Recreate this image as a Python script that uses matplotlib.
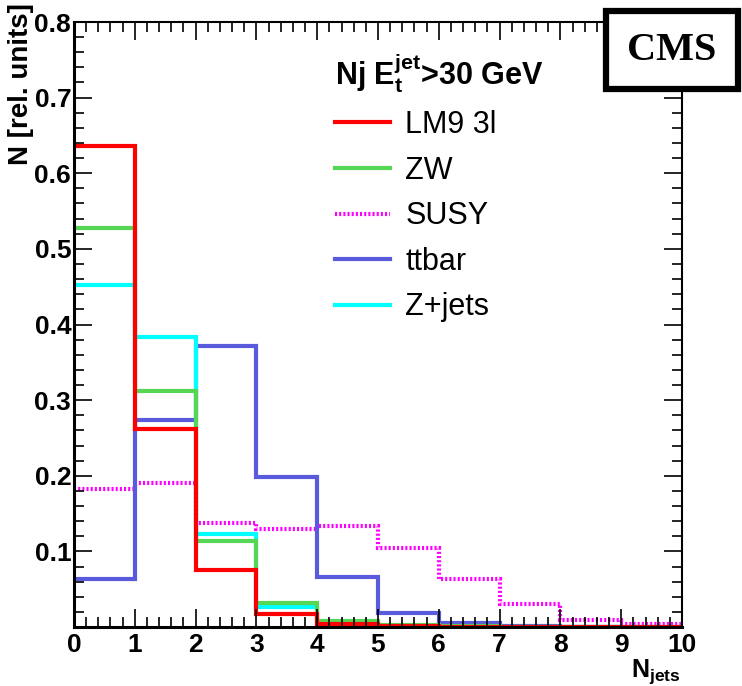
import matplotlib.pyplot as plt
from matplotlib.ticker import AutoMinorLocator, MultipleLocator, FuncFormatter
from matplotlib.lines import Line2D
import numpy as np

plt.rcParams['font.family'] = 'Liberation Sans'
plt.rcParams['mathtext.fontset'] = 'custom'
plt.rcParams['mathtext.rm'] = 'Liberation Sans:bold'
plt.rcParams['mathtext.bf'] = 'Liberation Sans:bold'
plt.rcParams['mathtext.it'] = 'Liberation Sans:bold'

# jet multiplicity bins 0..10, normalised counts per sample
edges = np.arange(0, 11)
lm9 = [0.636, 0.262, 0.075, 0.017, 0.004, 0.001, 0.0005, 0.0003, 0.0002, 0.0001]
zw = [0.528, 0.312, 0.114, 0.032, 0.008, 0.002, 0.001, 0.0005, 0.0002, 0.0001]
susy = [0.183, 0.190, 0.137, 0.130, 0.133, 0.105, 0.063, 0.030, 0.009, 0.004]
ttbar = [0.064, 0.274, 0.372, 0.199, 0.066, 0.018, 0.005, 0.001, 0.0005, 0.0002]
zjets = [0.452, 0.383, 0.123, 0.027, 0.007, 0.001, 0.0005, 0.0002, 0.0001, 0.0001]

labels = ['LM9 3l', 'ZW', 'SUSY', 'ttbar', 'Z+jets']
colors = ['#ff0000', '#55d655', '#ff00ff', '#5a5adc', '#00ffff']

fig = plt.figure(figsize=(7.42, 6.86), dpi=100)
ax = fig.add_axes([74 / 742, 1 - 627 / 686, 608 / 742, 605 / 686])

lw = 3.0
dots = (0, (0.5, 0.5))
ax.stairs(susy, edges, baseline=None, color=colors[2], lw=lw, linestyle=dots)
ax.stairs(ttbar, edges, baseline=None, color=colors[3], lw=lw)
ax.stairs(zjets, edges, baseline=None, color=colors[4], lw=lw)
ax.stairs(zw, edges, baseline=None, color=colors[1], lw=lw)
ax.stairs(lm9, edges, baseline=None, color=colors[0], lw=lw)

ax.set_xlim(0, 10)
ax.set_ylim(0, 0.8)
ax.xaxis.set_major_locator(MultipleLocator(1))
ax.xaxis.set_minor_locator(AutoMinorLocator(5))
ax.yaxis.set_major_locator(MultipleLocator(0.1))
ax.yaxis.set_minor_locator(AutoMinorLocator(5))
ax.yaxis.set_major_formatter(FuncFormatter(lambda v, p: '' if abs(v) < 1e-9 else f'{v:.1f}'))

ax.tick_params(which='both', direction='in', top=True, right=True, width=1.2)
ax.tick_params(which='major', length=13)
ax.tick_params(which='minor', length=7)
ax.tick_params(axis='x', pad=4)
ax.tick_params(axis='y', pad=2)
for lab in ax.get_xticklabels() + ax.get_yticklabels():
    lab.set_fontsize(19)
    lab.set_fontweight('bold')
for s in ax.spines.values():
    s.set_linewidth(1.5)
ax.spines['left'].set_linewidth(2.2)
ax.spines['bottom'].set_linewidth(2.2)

# axis titles
fig.text(21 / 742, 1 - 3 / 686, 'N [rel. units]', rotation=90, ha='center', va='top',
         fontsize=20, fontweight='bold')
fig.text(681 / 742, 0.0, r'$\mathbf{N_{jets}}$', ha='right', va='bottom', fontsize=18)

# legend
handles = [Line2D([], [], color=colors[0], lw=lw),
           Line2D([], [], color=colors[1], lw=lw),
           Line2D([], [], color=colors[2], lw=lw, linestyle=dots),
           Line2D([], [], color=colors[3], lw=lw),
           Line2D([], [], color=colors[4], lw=lw)]
leg = fig.legend(handles, labels, loc='upper left', bbox_to_anchor=(335 / 742, 1 - 51 / 686),
                 frameon=False, fontsize=22, handlelength=1.8, handletextpad=0.5,
                 labelspacing=0.51, borderpad=0, borderaxespad=0,
                 title=r'Nj E$_\mathrm{t}^\mathrm{jet}$>30 GeV', alignment='left')
leg.get_title().set_fontsize(22)
leg.get_title().set_fontweight('bold')

# experiment tag
fig.text(672 / 742, 1 - 50 / 686, 'CMS', ha='center', va='center', fontsize=29,
         fontweight='bold', family='Liberation Serif',
         bbox=dict(boxstyle='square,pad=0.52', fc='white', ec='black', lw=4.5))

fig.savefig('out.png', dpi=100)
